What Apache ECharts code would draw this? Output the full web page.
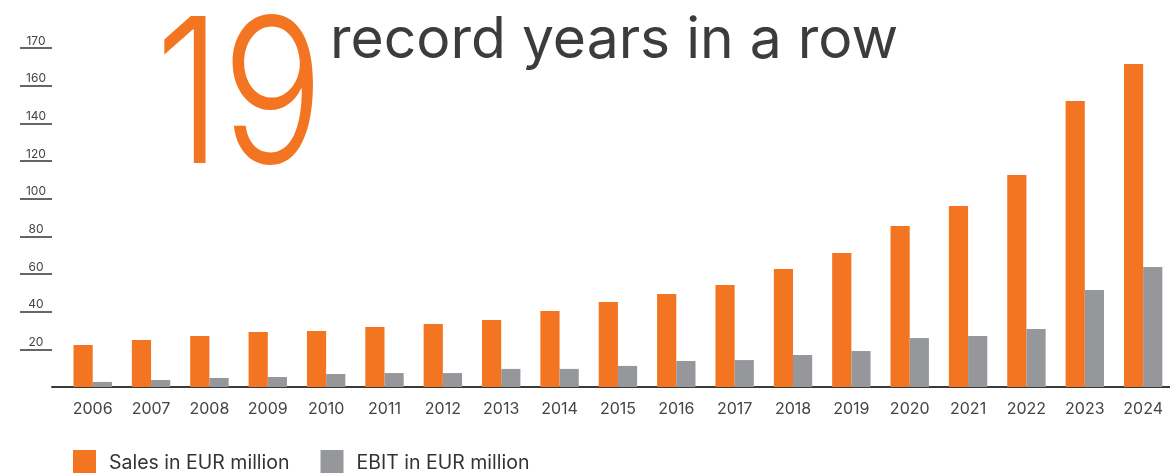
<!DOCTYPE html>
<html>
<head>
<meta charset="utf-8">
<script src="https://cdn.jsdelivr.net/npm/echarts@6/dist/echarts.min.js"></script>
<style>html,body{margin:0;padding:0;background:#fff}#c{width:1170px;height:473px}</style>
</head>
<body>
<div id="c"></div>
<script>
const years = ['2006','2007','2008','2009','2010','2011','2012','2013','2014','2015','2016','2017','2018','2019','2020','2021','2022','2023','2024'];
const sales = [22.3,25.0,27.1,29.2,29.7,31.9,33.5,35.6,40.4,45.1,49.4,54.2,62.7,71.2,85.5,96.1,112.6,151.9,171.5];
const ebit = [2.7,3.7,4.8,5.3,6.9,7.4,7.4,9.6,9.6,11.2,13.8,14.3,17.0,19.1,26.0,27.1,30.8,51.5,63.7];
const yTickValues = [20,40,60,80,100,120,140,160,180];
const yTickLabels = ['20','40','60','80','100','120','140','160','170'];
const bigNumber = '19';
const headline = 'record years in a row';

const FONT = 'Inter, Lato, "Noto Sans", sans-serif';
const chart = echarts.init(document.getElementById('c'), null, {renderer: 'canvas'});
const idx = years.map((y, i) => i);
const tickColors = [0].concat(yTickValues).map(v => v === 0 ? 'rgba(0,0,0,0)' : '#333');
chart.setOption({
  animation: false,
  textStyle: {fontFamily: FONT},
  title: [
    {text: headline, left: 330, top: 12, padding: 0,
     textStyle: {fontSize: 57, fontWeight: 400, color: '#3c3c3c', fontFamily: FONT, lineHeight: 57}}
  ],
  graphic: [
    {type: 'text', x: 155, y: 102, scaleX: 0.84, silent: true,
     style: {text: bigNumber, fontSize: 202, fontWeight: 300, fontFamily: FONT, fill: '#F47521',
             align: 'left', verticalAlign: 'middle', lineHeight: 202}}
  ],
  legend: {
    left: 73, top: 450, padding: 0, itemWidth: 23, itemHeight: 26, itemGap: 31,
    icon: 'rect',
    textStyle: {fontSize: 19.5, color: '#333', padding: [4, 0, 0, 8], fontFamily: FONT},
    data: ['Sales in EUR million', 'EBIT in EUR million']
  },
  grid: [
    {left: 52, right: 0, top: 48, bottom: 86, containLabel: false},
    {left: 20, width: 32, top: 48, bottom: 86, containLabel: false}
  ],
  xAxis: [{
    type: 'value', min: -0.6975, max: 18.46,
    axisLine: {show: true, onZero: false, lineStyle: {color: '#3a3a3a', width: 2}},
    axisTick: {show: false},
    splitLine: {show: false},
    axisLabel: {
      customValues: idx, margin: 14, fontSize: 16, color: '#444', fontFamily: FONT,
      formatter: v => years[Math.round(v)] || ''
    }
  }, {
    gridIndex: 1, type: 'value', min: 0, max: 1, show: false
  }],
  yAxis: [{
    type: 'value', min: 0, max: 180, interval: 20,
    axisLine: {show: false},
    splitLine: {show: false},
    axisTick: {show: false},
    axisLabel: {
      customValues: yTickValues, margin: 16, align: 'center', verticalAlign: 'bottom',
      padding: [0, 0, 1, 0], fontSize: 12, color: '#444', fontFamily: FONT,
      formatter: v => yTickLabels[yTickValues.indexOf(v)] || ''
    }
  }, {
    gridIndex: 1, type: 'value', min: 0, max: 180, interval: 20,
    axisLine: {show: false}, axisTick: {show: false}, axisLabel: {show: false},
    splitLine: {show: true, lineStyle: {color: tickColors, width: 1.5}}
  }],
  series: [
    {name: 'Sales in EUR million', type: 'bar', barWidth: 19.2, barGap: '0%',
     itemStyle: {color: '#F47521'}, data: idx.map(i => [i, sales[i]])},
    {name: 'EBIT in EUR million', type: 'bar', barWidth: 19.2, barGap: '0%',
     itemStyle: {color: '#96979A'}, data: idx.map(i => [i, ebit[i]])}
  ]
});
</script>
</body>
</html>
